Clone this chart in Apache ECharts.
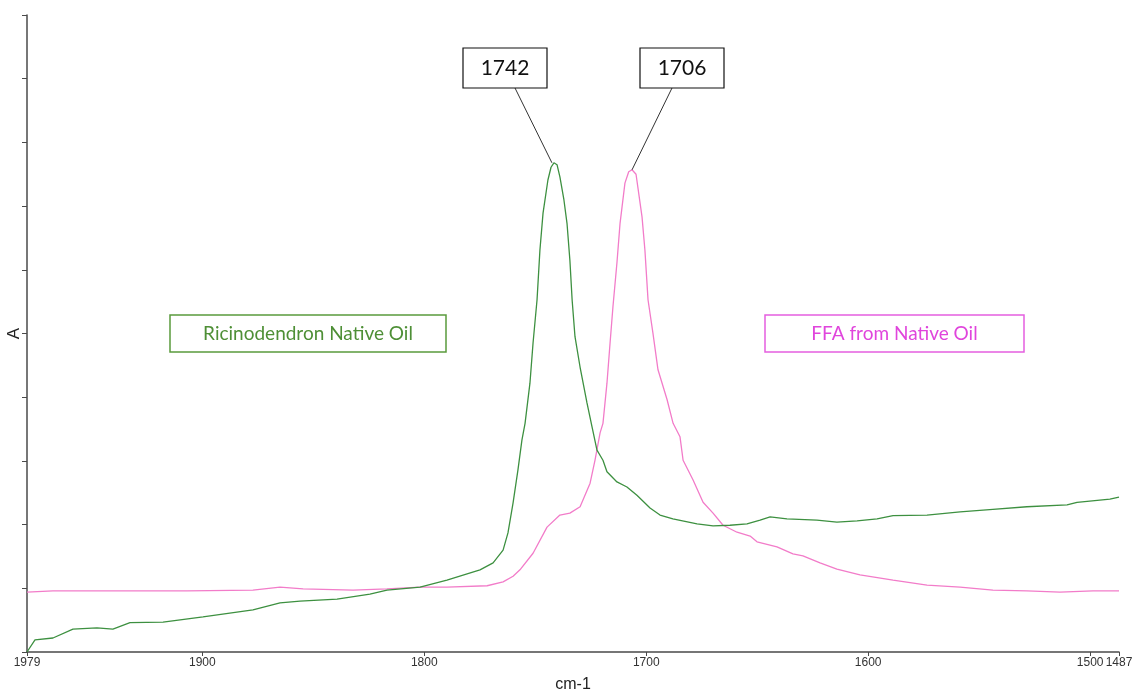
<!DOCTYPE html>
<html>
<head>
<meta charset="utf-8">
<script src="https://cdn.jsdelivr.net/npm/echarts@6/dist/echarts.min.js"></script>
<style>html,body{margin:0;padding:0;background:#fff}#c{width:1132px;height:689px}</style>
</head>
<body>
<div id="c"></div>
<script>
// Wavenumber (cm-1) and absorbance (arbitrary units)
const nativeOilWn = [1979,1975.4,1967.3,1958.3,1947.5,1940.3,1932.6,1917.7,1899.7,1877.2,1865.0,1856.0,1839.3,1824.5,1816.8,1801.9,1789.8,1774.9,1769.0,1764.5,1762.3,1760.0,1757.8,1756.0,1754.6,1752.4,1751.0,1749.2,1747.9,1746.5,1744.3,1742.9,1741.6,1740.2,1738.9,1737.1,1735.7,1734.4,1733.4,1732.1,1729.8,1726.7,1724.4,1722.2,1719.5,1717.7,1713.2,1708.7,1704.2,1698.3,1693.8,1688.0,1677.1,1669.9,1662.3,1654.6,1648.7,1644.2,1636.6,1623.1,1614.1,1605.0,1596.0,1588.8,1573.5,1558.6,1543.8,1528.5,1510.4,1505.9,1491.1,1487.0];
const nativeOilA = [0.00,0.19,0.22,0.36,0.38,0.36,0.46,0.47,0.55,0.66,0.77,0.80,0.83,0.91,0.97,1.02,1.13,1.29,1.40,1.60,1.87,2.34,2.86,3.33,3.59,4.22,4.85,5.53,6.31,6.89,7.41,7.61,7.68,7.65,7.46,7.10,6.73,6.15,5.53,4.95,4.47,3.91,3.53,3.17,3.01,2.83,2.67,2.59,2.46,2.26,2.15,2.09,2.01,1.98,1.99,2.01,2.07,2.12,2.09,2.07,2.04,2.06,2.09,2.14,2.15,2.20,2.24,2.28,2.31,2.35,2.40,2.43];
const ffaWn = [1979,1967.3,1937.1,1906.9,1877.2,1865.0,1854.6,1832.1,1816.8,1801.9,1789.8,1771.7,1764.5,1760.0,1756.9,1751.0,1744.7,1738.9,1734.4,1729.8,1725.3,1723.1,1720.8,1719.5,1717.7,1716.3,1715.0,1713.2,1711.8,1709.6,1707.9,1706.4,1704.6,1701.9,1700.6,1699.2,1697.0,1694.7,1690.6,1687.9,1684.8,1683.4,1678.9,1674.4,1669.9,1665.4,1659.1,1653.2,1650.1,1641.1,1633.9,1629.4,1621.7,1614.1,1603.7,1588.8,1573.5,1558.6,1543.8,1528.5,1513.6,1498.7,1487.0];
const ffaA = [0.94,0.96,0.96,0.96,0.97,1.02,0.99,0.97,0.99,1.02,1.02,1.04,1.10,1.19,1.29,1.55,1.96,2.15,2.18,2.28,2.65,3.01,3.44,3.59,4.22,4.85,5.42,6.11,6.73,7.36,7.54,7.57,7.50,6.83,6.31,5.53,5.01,4.43,3.96,3.59,3.38,3.01,2.70,2.35,2.18,1.99,1.88,1.82,1.73,1.65,1.54,1.51,1.40,1.30,1.21,1.13,1.05,1.02,0.97,0.96,0.94,0.96,0.96];
const xTickLabels = [1979,1900,1800,1700,1600,1500,1487];
const seriesNames = ['Ricinodendron Native Oil','FFA from Native Oil'];
const peakLabels = ['1742','1706'];
const peakWn = [1741.6, 1706.4];
const peakA = [7.68, 7.57];

const GREEN = '#3d9040', PINK = '#f27cc9';
const chart = echarts.init(document.getElementById('c'), null, {renderer:'canvas'});
const zip = (a,b) => a.map((v,i)=>[v,b[i]]);
const axisCol = '#4a4a4a';
// split ticks so that the close pair 1500/1487 are drawn by two overlaid axes (no overlap hiding)
const mainTicks = xTickLabels.filter(v => v !== 1500);
const extraTicks = xTickLabels.filter(v => v === 1500);
const labelStyle = {fontFamily:'Liberation Sans',fontSize:12,color:'#333',margin:5,hideOverlap:false,formatter:v=>String(v)};
const option = {
  animation:false,
  backgroundColor:'#fff',
  grid:{left:27,right:13,top:15,bottom:37,containLabel:false,outerBoundsMode:'none'},
  xAxis:[{
    type:'value', inverse:true, min:1487, max:1979,
    name:'cm-1', nameLocation:'middle', nameGap:25,
    nameTextStyle:{fontFamily:'Liberation Sans',fontSize:16,color:'#222'},
    axisLine:{lineStyle:{color:axisCol,width:1.5}},
    axisTick:{show:true,length:4,inside:false,lineStyle:{color:axisCol},customValues:mainTicks},
    axisLabel:Object.assign({customValues:mainTicks,showMinLabel:true,showMaxLabel:true},labelStyle),
    splitLine:{show:false}
  },{
    type:'value', inverse:true, min:1487, max:1979, position:'bottom',
    axisLine:{show:false},
    axisTick:{show:true,length:4,inside:false,lineStyle:{color:axisCol},customValues:extraTicks},
    axisLabel:Object.assign({customValues:extraTicks,showMinLabel:false,showMaxLabel:false},labelStyle),
    splitLine:{show:false}
  }],
  yAxis:{
    type:'value', min:0, max:10, interval:1,
    name:'A', nameLocation:'middle', nameGap:4, nameRotate:90,
    nameTextStyle:{fontFamily:'Liberation Sans',fontSize:17,color:'#222'},
    axisLine:{show:true,lineStyle:{color:axisCol,width:1.5}},
    axisTick:{show:true,length:5,lineStyle:{color:axisCol}},
    axisLabel:{show:false},
    splitLine:{show:false}
  },
  series:[
    {name:seriesNames[0],type:'line',xAxisIndex:0,data:zip(nativeOilWn,nativeOilA),showSymbol:false,symbol:'none',lineStyle:{color:GREEN,width:1.3},z:3},
    {name:seriesNames[1],type:'line',xAxisIndex:0,data:zip(ffaWn,ffaA),showSymbol:false,symbol:'none',lineStyle:{color:PINK,width:1.3},z:2}
  ]
};
chart.setOption(option);

// annotations
const g = [];
const boxes = [{x:463,y:48,w:84,h:40},{x:640,y:48,w:84,h:40}];
peakLabels.forEach((t,i)=>{
  const b = boxes[i];
  const p = chart.convertToPixel({xAxisIndex:0,yAxisIndex:0},[peakWn[i],peakA[i]]);
  const ax = i===0 ? b.x + 52 : b.x + 32;
  g.push({type:'line',shape:{x1:ax,y1:b.y+b.h,x2:p[0]-(i===0?2:0),y2:p[1]},style:{stroke:'#333',lineWidth:1},z:10});
  g.push({type:'rect',shape:{x:b.x,y:b.y,width:b.w,height:b.h},style:{fill:'#fff',stroke:'#111',lineWidth:1.2},z:10});
  g.push({type:'text',x:b.x+b.w/2,y:b.y+b.h/2,style:{text:t,fontFamily:'Lato',fontSize:21,fill:'#111',align:'center',verticalAlign:'middle'},z:11});
});
const legends = [
  {x:170,y:315,w:276,h:37,col:'#5a9a3c',txt:'#4e8f36',t:seriesNames[0]},
  {x:765,y:315,w:259,h:37,col:'#e55fe0',txt:'#e045dc',t:seriesNames[1]}
];
legends.forEach(l=>{
  g.push({type:'rect',shape:{x:l.x,y:l.y,width:l.w,height:l.h},style:{fill:'#fff',stroke:l.col,lineWidth:1.5},z:10});
  g.push({type:'text',x:l.x+l.w/2,y:l.y+l.h/2,style:{text:l.t,fontFamily:'Lato',fontSize:19,fill:l.txt,align:'center',verticalAlign:'middle'},z:11});
});
chart.setOption({graphic:g});
</script>
</body>
</html>
